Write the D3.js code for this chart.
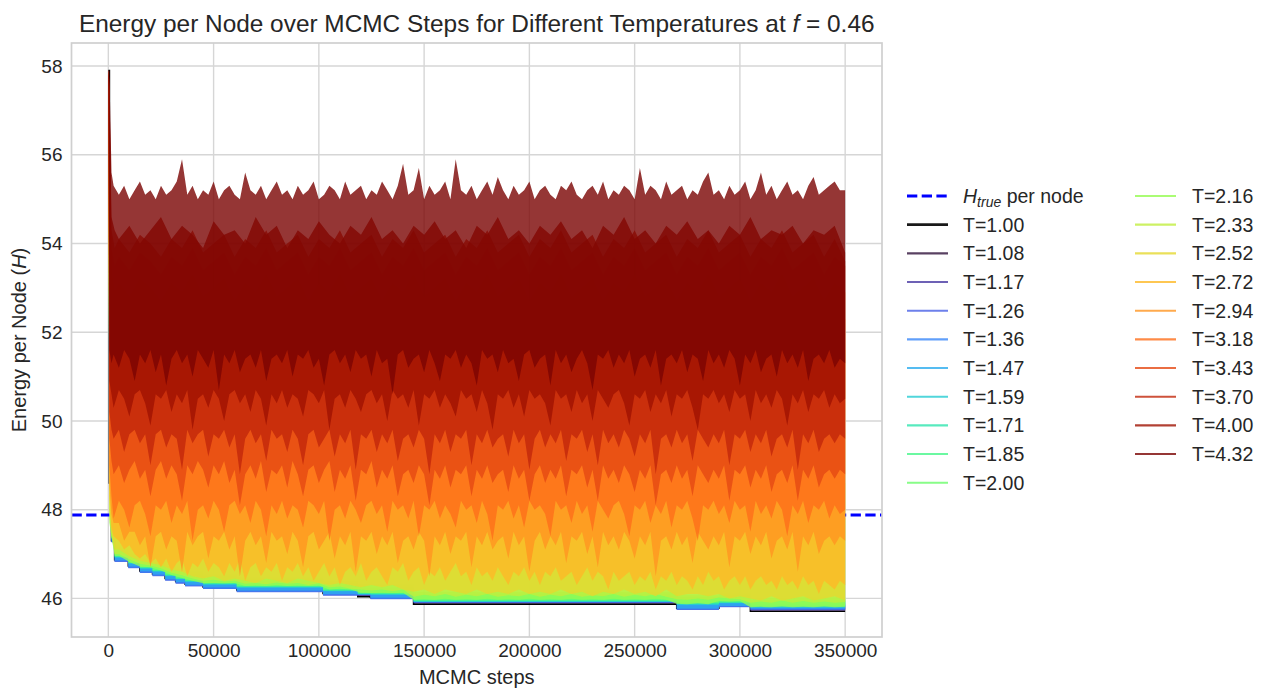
<!DOCTYPE html>
<html><head><meta charset="utf-8">
<script src="https://cdn.jsdelivr.net/npm/d3@7"></script>
<style>
body{margin:0;background:#fff;}
text{font-family:"Liberation Sans",Arial,sans-serif;fill:#262626;}
</style>
</head><body>
<svg id="chart" width="1267" height="690"></svg>
<script>
// ---------------- DATA ----------------
const temperatures = ["1.00","1.08","1.17","1.26","1.36","1.47","1.59","1.71","1.85","2.00",
                      "2.16","2.33","2.52","2.72","2.94","3.18","3.43","3.70","4.00","4.32"];
const hTrue = 47.88;
const xTickValues = [0, 50000, 100000, 150000, 200000, 250000, 300000, 350000];
const yTickValues = [46, 48, 50, 52, 54, 56, 58];

// coarse sample steps (upper envelopes that are mostly hidden)
const steps = [0, 500, 1500, 3000, 5000, 10000, 15000, 20000, 25000, 30000,
  35000, 40000, 45000, 50000, 55000, 60000, 65000, 70000, 75000, 80000,
  85000, 90000, 95000, 100000, 105000, 110000, 115000, 120000, 125000, 130000,
  135000, 140000, 145000, 150000, 155000, 160000, 165000, 170000, 175000, 180000,
  185000, 190000, 195000, 200000, 205000, 210000, 215000, 220000, 225000, 230000,
  235000, 240000, 245000, 250000, 255000, 260000, 265000, 270000, 275000, 280000,
  285000, 290000, 295000, 300000, 305000, 310000, 315000, 320000, 325000, 330000,
  335000, 340000, 345000, 350000];

// fine sample steps (visible edges)
const fineSteps = [0, 500, 1500, 2500, 5000, 7500, 10000, 12500, 15000, 17500,
  20000, 22500, 25000, 27500, 30000, 32500, 35000, 37500, 40000, 42500,
  45000, 47500, 50000, 52500, 55000, 57500, 60000, 62500, 65000, 67500,
  70000, 72500, 75000, 77500, 80000, 82500, 85000, 87500, 90000, 92500,
  95000, 97500, 100000, 102500, 105000, 107500, 110000, 112500, 115000, 117500,
  120000, 122500, 125000, 127500, 130000, 132500, 135000, 137500, 140000, 142500,
  145000, 147500, 150000, 152500, 155000, 157500, 160000, 162500, 165000, 167500,
  170000, 172500, 175000, 177500, 180000, 182500, 185000, 187500, 190000, 192500,
  195000, 197500, 200000, 202500, 205000, 207500, 210000, 212500, 215000, 217500,
  220000, 222500, 225000, 227500, 230000, 232500, 235000, 237500, 240000, 242500,
  245000, 247500, 250000, 252500, 255000, 257500, 260000, 262500, 265000, 267500,
  270000, 272500, 275000, 277500, 280000, 282500, 285000, 287500, 290000, 292500,
  295000, 297500, 300000, 302500, 305000, 307500, 310000, 312500, 315000, 317500,
  320000, 322500, 325000, 327500, 330000, 332500, 335000, 337500, 340000, 342500,
  345000, 347500, 350000];

// change points for the low-temperature (staircase) traces
const lowSteps = [0, 500, 1500, 3000, 9500, 15000, 21000, 27000, 32000, 36500, 45000, 61000,
  102000, 118500, 124500, 145000, 175000, 210000, 240000, 270000, 290000, 305000, 325000, 350000];

const t100 = [57.9, 48.6, 47.3, 46.87, 46.73, 46.62, 46.55, 46.45, 46.38, 46.32, 46.26, 46.19,
  46.11, 46.04, 46.03, 45.87, 45.87, 45.87, 45.87, 45.78, 45.84, 45.71, 45.71, 45.71];

const t108Lo = [57.9, 48.6, 47.28, 46.84, 46.7, 46.59, 46.52, 46.42, 46.35, 46.29, 46.23, 46.16, 46.08, 46.06, 46.0, 45.89, 45.89, 45.89, 45.89, 45.75, 45.81, 45.73, 45.73, 45.73];
const t108Hi = [57.9, 49.6, 47.34, 46.9, 46.76, 46.65, 46.58, 46.48, 46.41, 46.35, 46.29, 46.22, 46.14, 46.1, 46.06, 45.93, 45.93, 45.92, 45.93, 45.81, 45.87, 45.78, 45.79, 45.78];
const t117Lo = [57.9, 48.6, 47.27, 46.83, 46.69, 46.58, 46.51, 46.41, 46.34, 46.28, 46.22, 46.15, 46.07, 46.06, 45.99, 45.89, 45.89, 45.89, 45.89, 45.75, 45.81, 45.73, 45.73, 45.73];
const t117Hi = [57.9, 49.5, 47.36, 46.92, 46.78, 46.67, 46.6, 46.5, 46.43, 46.37, 46.31, 46.24, 46.16, 46.12, 46.08, 45.95, 45.95, 45.94, 45.95, 45.83, 45.89, 45.8, 45.81, 45.8];
const t126Lo = [57.9, 48.7, 47.26, 46.82, 46.68, 46.57, 46.5, 46.4, 46.33, 46.27, 46.21, 46.14, 46.06, 46.07, 45.98, 45.9, 45.9, 45.9, 45.9, 45.74, 45.8, 45.74, 45.74, 45.74];
const t126Hi = [57.9, 49.5, 47.38, 46.94, 46.8, 46.69, 46.62, 46.52, 46.45, 46.39, 46.33, 46.26, 46.18, 46.14, 46.1, 45.97, 45.96, 45.97, 45.96, 45.85, 45.91, 45.82, 45.83, 45.82];
const t136Lo = [57.9, 48.7, 47.27, 46.83, 46.69, 46.58, 46.51, 46.41, 46.34, 46.28, 46.22, 46.15, 46.07, 46.08, 45.99, 45.91, 45.91, 45.91, 45.91, 45.75, 45.81, 45.75, 45.75, 45.75];
const t136Hi = [57.9, 49.4, 47.4, 46.97, 46.83, 46.72, 46.65, 46.55, 46.48, 46.42, 46.36, 46.29, 46.21, 46.16, 46.13, 45.99, 45.98, 45.99, 45.98, 45.88, 45.93, 45.84, 45.85, 45.84];
const t147Lo = [57.9, 48.8, 47.3, 46.86, 46.72, 46.61, 46.54, 46.44, 46.37, 46.31, 46.25, 46.18, 46.1, 46.09, 46.02, 45.92, 45.92, 45.92, 45.92, 45.77, 45.83, 45.77, 45.77, 45.77];
const t147Hi = [57.9, 49.3, 47.43, 47.0, 46.86, 46.75, 46.68, 46.58, 46.51, 46.45, 46.39, 46.32, 46.24, 46.18, 46.16, 46.01, 46.0, 46.01, 46.0, 45.91, 45.96, 45.87, 45.88, 45.87];
const t159Lo = [57.9, 48.8, 47.35, 46.92, 46.78, 46.67, 46.6, 46.5, 46.43, 46.37, 46.31, 46.24, 46.16, 46.09, 46.08, 45.92, 45.92, 45.92, 45.92, 45.85, 45.89, 45.79, 45.79, 45.79];
const t159Hi = [57.9, 49.3, 47.48, 47.04, 46.9, 46.79, 46.72, 46.62, 46.55, 46.49, 46.43, 46.36, 46.28, 46.21, 46.2, 46.04, 46.03, 46.04, 46.03, 45.96, 46.0, 45.9, 45.91, 45.9];
const t171Lo = [57.9, 48.9, 47.36, 46.93, 46.79, 46.68, 46.61, 46.51, 46.44, 46.38, 46.32, 46.25, 46.17, 46.1, 46.09, 45.93, 45.93, 45.93, 45.93, 45.87, 45.9, 45.81, 45.81, 45.81];
const t171Hi = [57.9, 49.2, 47.52, 47.07, 46.93, 46.82, 46.75, 46.65, 46.58, 46.52, 46.46, 46.39, 46.31, 46.24, 46.23, 46.07, 46.06, 46.07, 46.06, 45.99, 46.03, 45.93, 45.94, 45.93];
const t185Lo = [57.9, 48.9, 47.38, 46.94, 46.8, 46.69, 46.62, 46.52, 46.45, 46.39, 46.33, 46.26, 46.18, 46.11, 46.1, 45.94, 45.94, 45.94, 45.94, 45.89, 45.91, 45.83, 45.83, 45.83];
const t185Hi = [57.9, 49.1, 47.56, 47.11, 46.97, 46.86, 46.79, 46.69, 46.62, 46.56, 46.5, 46.43, 46.35, 46.28, 46.27, 46.11, 46.1, 46.11, 46.1, 46.03, 46.07, 45.97, 45.98, 45.97];
const t200Lo = [57.9, 49.0, 47.4, 46.96, 46.82, 46.71, 46.64, 46.54, 46.47, 46.41, 46.35, 46.28, 46.2, 46.13, 46.12, 45.96, 45.96, 45.96, 45.96, 45.91, 45.93, 45.86, 45.86, 45.86];
const t200Hi = [57.9, 49.1, 47.6, 47.15, 47.01, 46.9, 46.83, 46.73, 46.66, 46.6, 46.54, 46.47, 46.39, 46.32, 46.31, 46.15, 46.14, 46.15, 46.14, 46.07, 46.11, 46.01, 46.02, 46.01];

const t216Lo = [57.9, 47.7, 47.38, 46.96, 46.96, 46.82, 46.72, 46.7, 46.63, 46.53,
  46.46, 46.4, 46.34, 46.35, 46.34, 46.35, 46.28, 46.29, 46.28, 46.3,
  46.28, 46.29, 46.28, 46.29, 46.2, 46.22, 46.2, 46.13, 46.12, 46.13,
  46.12, 46.13, 45.97, 45.98, 45.97, 45.99, 45.97, 45.98, 45.97, 45.99,
  45.97, 45.98, 45.97, 45.99, 45.97, 45.98, 45.97, 45.99, 45.97, 45.98,
  45.97, 45.99, 45.97, 45.98, 45.97, 45.99, 45.97, 45.88, 45.87, 45.89,
  45.87, 45.94, 45.93, 45.94, 45.8, 45.81, 45.8, 45.82, 45.8, 45.81,
  45.8, 45.82, 45.8, 45.81];
const t216Hi = [57.9, 56.5, 49.6, 49.0, 48.8, 48.5, 48.7, 48.3, 48.6, 48.4,
  48.2, 48.5, 48.3, 48.6, 48.1, 48.4, 48.2, 48.5, 48.0, 48.3,
  48.4, 48.1, 48.5, 48.2, 48.3, 48.0, 48.4, 48.2, 48.5, 48.1,
  48.3, 48.0, 48.2, 48.4, 48.1, 48.3, 48.0, 48.2, 48.4, 48.1,
  48.3, 48.0, 48.2, 48.4, 48.1, 48.2, 48.0, 48.3, 48.1, 48.2,
  48.0, 48.3, 48.1, 48.2, 47.9, 48.2, 48.0, 48.3, 48.1, 48.0,
  48.2, 47.9, 48.1, 48.0, 48.2, 47.9, 48.1, 48.0, 47.8, 48.1,
  47.9, 48.0, 48.1, 47.8];
const t233Lo = [57.9, 47.8, 47.4, 47.0, 47.0, 46.88, 46.78, 46.74, 46.68, 46.58,
  46.52, 46.45, 46.4, 46.42, 46.38, 46.4, 46.33, 46.35, 46.32, 46.36,
  46.33, 46.35, 46.3, 46.34, 46.25, 46.27, 46.22, 46.2, 46.18, 46.2,
  46.16, 46.2, 46.04, 46.08, 46.05, 46.1, 46.04, 46.08, 46.05, 46.1,
  46.04, 46.07, 46.05, 46.1, 46.04, 46.08, 46.05, 46.1, 46.04, 46.07,
  46.05, 46.1, 46.04, 46.08, 46.05, 46.1, 46.04, 45.98, 45.97, 46.0,
  45.97, 46.02, 46.0, 45.98, 45.9, 45.93, 45.9, 45.95, 45.9, 45.94,
  45.9, 45.93, 45.9, 45.92];
const t233Hi = [57.9, 56.8, 50.4, 49.8, 49.6, 49.3, 49.5, 49.1, 49.4, 49.2,
  49.0, 49.3, 49.1, 49.4, 48.9, 49.2, 49.0, 49.3, 48.8, 49.1,
  49.2, 48.9, 49.3, 49.0, 49.1, 48.8, 49.2, 49.0, 49.3, 48.9,
  49.1, 48.8, 49.0, 49.2, 48.9, 49.1, 48.8, 49.0, 49.2, 48.9,
  49.1, 48.8, 49.0, 49.2, 48.9, 49.0, 48.8, 49.1, 48.9, 49.0,
  48.8, 49.1, 48.9, 49.0, 48.7, 49.0, 48.8, 49.1, 48.9, 48.8,
  49.0, 48.7, 48.9, 48.8, 49.0, 48.7, 48.9, 48.8, 48.6, 48.9,
  48.7, 48.8, 48.9, 48.6];
const t252Lo = [57.9, 48.0, 47.5, 47.1, 47.1, 46.95, 46.85, 46.8, 46.75, 46.65,
  46.6, 46.5, 46.45, 46.5, 46.4, 46.45, 46.4, 46.35, 46.45, 46.4,
  46.35, 46.45, 46.4, 46.35, 46.3, 46.35, 46.3, 46.25, 46.3, 46.25,
  46.3, 46.2, 46.15, 46.2, 46.1, 46.2, 46.15, 46.1, 46.2, 46.1,
  46.15, 46.1, 46.2, 46.1, 46.15, 46.1, 46.2, 46.1, 46.15, 46.05,
  46.15, 46.1, 46.2, 46.1, 46.15, 46.05, 46.2, 46.05, 46.1, 46.1,
  46.05, 46.1, 46.0, 46.05, 46.0, 45.95, 46.05, 45.95, 46.0, 46.05,
  45.95, 46.0, 46.05, 45.95];
const t252Hi = [57.9, 57.0, 51.5, 51.0, 50.8, 50.5, 50.7, 50.3, 50.6, 50.4,
  50.2, 50.5, 50.3, 50.6, 50.1, 50.4, 50.2, 50.5, 50.0, 50.3,
  50.4, 50.1, 50.5, 50.2, 50.3, 50.0, 50.4, 50.2, 50.5, 50.1,
  50.3, 50.0, 50.2, 50.4, 50.1, 50.3, 50.0, 50.2, 50.4, 50.1,
  50.3, 50.0, 50.2, 50.4, 50.1, 50.2, 50.0, 50.3, 50.1, 50.2,
  50.0, 50.3, 50.1, 50.2, 49.9, 50.2, 50.0, 50.3, 50.1, 50.0,
  50.2, 49.9, 50.1, 50.0, 50.2, 49.9, 50.1, 50.0, 49.8, 50.1,
  49.9, 50.0, 50.1, 49.8];
const t272Lo = [57.9, 48.3, 47.6, 47.4, 47.3, 47.1, 47.2, 47.0, 46.9, 47.0,
  46.8, 46.9, 46.7, 46.9, 46.6, 46.8, 46.9, 46.5, 46.8, 46.7,
  46.9, 46.6, 46.8, 46.7, 46.5, 46.8, 46.6, 46.9, 46.4, 46.7,
  46.8, 46.5, 46.7, 46.6, 46.8, 46.4, 46.7, 46.6, 46.8, 46.5,
  46.7, 46.4, 46.6, 46.8, 46.5, 46.7, 46.3, 46.6, 46.7, 46.5,
  46.8, 46.4, 46.6, 46.7, 46.5, 46.3, 46.7, 46.6, 46.8, 46.4,
  46.6, 46.7, 46.3, 46.6, 46.5, 46.7, 46.4, 46.6, 46.8, 46.5,
  46.6, 46.3, 46.7, 46.5, 46.6, 46.4, 46.7, 46.5, 46.3, 46.6,
  46.5, 46.7, 46.4, 46.6, 46.3, 46.6, 46.5, 46.7, 46.4, 46.5,
  46.6, 46.3, 46.5, 46.7, 46.4, 46.6, 46.5, 46.2, 46.6, 46.4,
  46.5, 46.6, 46.3, 46.5, 46.4, 46.6, 46.2, 46.5, 46.4, 46.6,
  46.3, 46.5, 46.4, 46.2, 46.5, 46.3, 46.6, 46.4, 46.5, 46.2,
  46.4, 46.5, 46.3, 46.5, 46.2, 46.4, 46.5, 46.3, 46.4, 46.2,
  46.5, 46.3, 46.4, 46.2, 46.5, 46.3, 46.4, 46.1, 46.4, 46.3,
  46.2, 46.4, 46.3];
const t272Hi = [57.9, 57.2, 52.0, 51.6, 51.8, 51.5, 51.9, 51.7, 51.4, 51.8,
  51.6, 52.0, 51.5, 51.7, 51.9, 51.4, 51.8, 51.6, 52.0, 51.5,
  51.7, 51.9, 51.4, 51.8, 51.6, 52.0, 51.5, 51.7, 51.9, 51.4,
  51.8, 51.6, 52.0, 51.5, 51.7, 51.9, 51.4, 51.8, 51.6, 52.0,
  51.5, 51.7, 51.9, 51.4, 51.8, 51.6, 52.0, 51.5, 51.7, 51.9,
  51.4, 51.8, 51.6, 52.0, 51.5, 51.7, 51.9, 51.4, 51.8, 51.6,
  52.0, 51.5, 51.7, 51.9, 51.4, 51.8, 51.6, 52.0, 51.5, 51.7,
  51.9, 51.4, 51.8, 51.6];
const t294Lo = [57.9, 48.6, 47.9, 47.7, 47.7, 47.3, 47.5, 47.5, 47.2, 47.4,
  46.7, 47.4, 47.5, 47.1, 47.4, 47.3, 46.6, 47.5, 47.2, 47.4,
  47.5, 46.9, 47.4, 47.3, 47.5, 47.1, 47.4, 46.5, 47.3, 47.5,
  47.2, 47.4, 46.8, 47.5, 47.3, 47.4, 47.0, 47.5, 47.3, 46.7,
  47.4, 47.5, 47.1, 47.3, 47.5, 46.9, 47.4, 47.2, 47.5, 46.6,
  47.4, 47.3, 47.5, 47.0, 47.4, 47.2, 47.5, 46.8, 47.3, 47.4,
  47.1, 47.5, 47.3, 46.5, 47.4, 47.2, 47.5, 47.0, 47.4, 47.3,
  47.5, 46.7, 47.4, 47.2, 47.5, 47.1, 47.3, 47.4, 46.9, 47.5,
  47.2, 47.4, 46.6, 47.3, 47.5, 47.1, 47.4, 47.2, 47.5, 46.8,
  47.4, 47.3, 47.5, 47.0, 47.4, 46.7, 47.5, 47.2, 47.4, 47.1,
  47.5, 47.3, 46.9, 47.4, 47.2, 47.5, 46.5, 47.3, 47.4, 47.1,
  47.5, 47.2, 47.4, 46.8, 47.5, 47.3, 47.1, 47.4, 47.2, 47.5,
  46.7, 47.4, 47.3, 47.5, 47.0, 47.4, 47.2, 47.5, 46.9, 47.3,
  47.4, 47.1, 47.5, 46.6, 47.4, 47.2, 47.5, 47.0, 47.3, 47.4,
  47.2, 47.4, 47.3];
const t294Hi = [57.9, 57.3, 52.7, 52.3, 52.5, 52.2, 52.6, 52.4, 52.1, 52.5,
  52.3, 52.7, 52.2, 52.4, 52.6, 52.1, 52.5, 52.3, 52.7, 52.2,
  52.4, 52.6, 52.1, 52.5, 52.3, 52.7, 52.2, 52.4, 52.6, 52.1,
  52.5, 52.3, 52.7, 52.2, 52.4, 52.6, 52.1, 52.5, 52.3, 52.7,
  52.2, 52.4, 52.6, 52.1, 52.5, 52.3, 52.7, 52.2, 52.4, 52.6,
  52.1, 52.5, 52.3, 52.7, 52.2, 52.4, 52.6, 52.1, 52.5, 52.3,
  52.7, 52.2, 52.4, 52.6, 52.1, 52.5, 52.3, 52.7, 52.2, 52.4,
  52.6, 52.1, 52.5, 52.3];
const t318Lo = [57.9, 49.0, 48.3, 47.8, 48.2, 48.0, 47.6, 48.1, 48.2, 47.9,
  47.4, 48.1, 48.0, 48.2, 47.7, 48.1, 47.9, 48.2, 47.3, 48.0,
  48.1, 47.8, 48.2, 48.0, 47.5, 48.1, 48.2, 47.9, 48.1, 47.7,
  48.2, 48.0, 47.4, 48.1, 47.9, 48.2, 47.8, 48.1, 48.0, 47.6,
  48.2, 48.1, 47.9, 48.2, 47.3, 48.0, 48.1, 47.8, 48.2, 48.0,
  47.7, 48.1, 48.2, 47.9, 48.1, 47.5, 48.2, 48.0, 48.1, 47.8,
  48.2, 47.4, 48.1, 48.0, 48.2, 47.8, 48.1, 47.9, 47.6, 48.2,
  48.0, 48.1, 47.7, 48.2, 47.9, 47.3, 48.1, 48.0, 48.2, 47.8,
  48.1, 47.6, 48.2, 48.0, 48.1, 47.9, 47.4, 48.2, 48.0, 48.1,
  47.7, 48.2, 47.9, 48.1, 47.5, 48.2, 48.0, 47.8, 48.1, 48.2,
  47.9, 47.4, 48.1, 48.0, 48.2, 47.7, 48.1, 47.9, 48.2, 47.6,
  48.1, 48.0, 48.2, 47.8, 47.3, 48.1, 48.0, 48.2, 47.9, 48.1,
  47.7, 48.2, 48.0, 48.1, 47.5, 48.2, 47.9, 48.1, 47.8, 48.2,
  48.0, 47.4, 48.1, 47.9, 48.2, 47.7, 48.1, 48.0, 48.2, 47.8,
  48.1, 47.9, 48.0];
const t318Hi = [57.9, 57.4, 53.3, 52.9, 53.1, 52.8, 53.2, 53.0, 52.7, 53.1,
  52.9, 53.3, 52.8, 53.0, 53.2, 52.7, 53.1, 52.9, 53.3, 52.8,
  53.0, 53.2, 52.7, 53.1, 52.9, 53.3, 52.8, 53.0, 53.2, 52.7,
  53.1, 52.9, 53.3, 52.8, 53.0, 53.2, 52.7, 53.1, 52.9, 53.3,
  52.8, 53.0, 53.2, 52.7, 53.1, 52.9, 53.3, 52.8, 53.0, 53.2,
  52.7, 53.1, 52.9, 53.3, 52.8, 53.0, 53.2, 52.7, 53.1, 52.9,
  53.3, 52.8, 53.0, 53.2, 52.7, 53.1, 52.9, 53.3, 52.8, 53.0,
  53.2, 52.7, 53.1, 52.9];
const t343Lo = [57.9, 49.6, 49.1, 48.8, 49.0, 48.6, 48.9, 49.1, 48.7, 48.9,
  48.3, 48.9, 49.1, 48.7, 49.0, 48.8, 48.2, 49.0, 48.8, 49.1,
  48.9, 48.5, 49.0, 48.8, 49.1, 48.6, 48.9, 48.1, 48.8, 49.0,
  48.7, 49.1, 48.4, 48.9, 48.8, 49.0, 48.5, 49.1, 48.8, 48.3,
  48.9, 49.0, 48.6, 48.9, 49.1, 48.4, 48.9, 48.7, 49.0, 48.2,
  48.9, 48.8, 49.1, 48.5, 48.9, 48.7, 49.0, 48.3, 48.8, 48.9,
  48.6, 49.0, 48.8, 48.1, 48.9, 48.7, 49.0, 48.5, 48.9, 48.8,
  49.0, 48.3, 48.9, 48.7, 49.0, 48.6, 48.8, 48.9, 48.4, 49.0,
  48.7, 48.9, 48.2, 48.8, 49.0, 48.6, 48.9, 48.7, 49.0, 48.3,
  48.9, 48.8, 49.0, 48.5, 48.9, 48.2, 49.0, 48.7, 48.9, 48.6,
  49.0, 48.8, 48.4, 48.9, 48.7, 49.0, 48.1, 48.8, 48.9, 48.6,
  49.0, 48.7, 48.9, 48.3, 49.0, 48.8, 48.6, 48.9, 48.7, 49.0,
  48.2, 48.9, 48.8, 49.0, 48.5, 48.9, 48.7, 49.0, 48.4, 48.8,
  48.9, 48.6, 49.0, 48.2, 48.9, 48.7, 49.0, 48.5, 48.8, 48.9,
  48.7, 48.9, 48.8];
const t343Hi = [57.9, 57.5, 53.9, 53.5, 53.7, 53.4, 53.8, 53.6, 53.3, 53.7,
  53.5, 53.9, 53.4, 53.6, 53.8, 53.3, 53.7, 53.5, 53.9, 53.4,
  53.6, 53.8, 53.3, 53.7, 53.5, 53.9, 53.4, 53.6, 53.8, 53.3,
  53.7, 53.5, 53.9, 53.4, 53.6, 53.8, 53.3, 53.7, 53.5, 53.9,
  53.4, 53.6, 53.8, 53.3, 53.7, 53.5, 53.9, 53.4, 53.6, 53.8,
  53.3, 53.7, 53.5, 53.9, 53.4, 53.6, 53.8, 53.3, 53.7, 53.5,
  53.9, 53.4, 53.6, 53.8, 53.3, 53.7, 53.5, 53.9, 53.4, 53.6,
  53.8, 53.3, 53.7, 53.5];
const t370Lo = [57.9, 50.2, 49.8, 49.6, 49.8, 49.3, 49.7, 49.8, 49.5, 49.7,
  49.0, 49.7, 49.8, 49.4, 49.7, 49.6, 48.9, 49.8, 49.5, 49.7,
  49.8, 49.2, 49.7, 49.6, 49.8, 49.4, 49.7, 48.8, 49.6, 49.8,
  49.5, 49.7, 49.1, 49.8, 49.6, 49.7, 49.3, 49.8, 49.6, 49.0,
  49.7, 49.8, 49.4, 49.6, 49.8, 49.2, 49.7, 49.5, 49.8, 48.9,
  49.7, 49.6, 49.8, 49.3, 49.7, 49.5, 49.8, 49.1, 49.6, 49.7,
  49.4, 49.8, 49.6, 48.8, 49.7, 49.5, 49.8, 49.3, 49.7, 49.6,
  49.8, 49.0, 49.7, 49.5, 49.8, 49.4, 49.6, 49.7, 49.2, 49.8,
  49.5, 49.7, 48.9, 49.6, 49.8, 49.4, 49.7, 49.5, 49.8, 49.1,
  49.7, 49.6, 49.8, 49.3, 49.7, 49.0, 49.8, 49.5, 49.7, 49.4,
  49.8, 49.6, 49.2, 49.7, 49.5, 49.8, 48.8, 49.6, 49.7, 49.4,
  49.8, 49.5, 49.7, 49.1, 49.8, 49.6, 49.4, 49.7, 49.5, 49.8,
  49.0, 49.7, 49.6, 49.8, 49.3, 49.7, 49.5, 49.8, 49.2, 49.6,
  49.7, 49.4, 49.8, 48.9, 49.7, 49.5, 49.8, 49.3, 49.6, 49.7,
  49.5, 49.7, 49.6];
const t370Hi = [57.9, 57.6, 54.3, 53.9, 54.1, 53.8, 54.2, 54.0, 53.7, 54.1,
  53.9, 54.3, 53.8, 54.0, 54.2, 53.7, 54.1, 53.9, 54.3, 53.8,
  54.0, 54.2, 53.7, 54.1, 53.9, 54.3, 53.8, 54.0, 54.2, 53.7,
  54.1, 53.9, 54.3, 53.8, 54.0, 54.2, 53.7, 54.1, 53.9, 54.3,
  53.8, 54.0, 54.2, 53.7, 54.1, 53.9, 54.3, 53.8, 54.0, 54.2,
  53.7, 54.1, 53.9, 54.3, 53.8, 54.0, 54.2, 53.7, 54.1, 53.9,
  54.3, 53.8, 54.0, 54.2, 53.7, 54.1, 53.9, 54.3, 53.8, 54.0,
  54.2, 53.7, 54.1, 53.6];
const t400Lo = [57.9, 50.9, 50.6, 50.3, 50.7, 50.5, 50.1, 50.6, 50.7, 50.4,
  49.9, 50.6, 50.5, 50.7, 50.2, 50.6, 50.4, 50.7, 49.8, 50.5,
  50.6, 50.3, 50.7, 50.5, 50.0, 50.6, 50.7, 50.4, 50.6, 50.2,
  50.7, 50.5, 49.9, 50.6, 50.4, 50.7, 50.3, 50.6, 50.5, 50.1,
  50.7, 50.6, 50.4, 50.7, 49.8, 50.5, 50.6, 50.3, 50.7, 50.5,
  50.2, 50.6, 50.7, 50.4, 50.6, 50.0, 50.7, 50.5, 50.6, 50.3,
  50.7, 49.9, 50.6, 50.5, 50.7, 50.3, 50.6, 50.4, 50.1, 50.7,
  50.5, 50.6, 50.2, 50.7, 50.4, 49.8, 50.6, 50.5, 50.7, 50.3,
  50.6, 50.1, 50.7, 50.5, 50.6, 50.4, 49.9, 50.7, 50.5, 50.6,
  50.2, 50.7, 50.4, 50.6, 50.0, 50.7, 50.5, 50.3, 50.6, 50.7,
  50.4, 49.9, 50.6, 50.5, 50.7, 50.2, 50.6, 50.4, 50.7, 50.1,
  50.6, 50.5, 50.7, 50.3, 49.8, 50.6, 50.5, 50.7, 50.4, 50.6,
  50.2, 50.7, 50.5, 50.6, 50.0, 50.7, 50.4, 50.6, 50.3, 50.7,
  50.5, 49.9, 50.6, 50.4, 50.7, 50.2, 50.6, 50.5, 50.7, 50.3,
  50.6, 50.4, 50.5];
const t400Hi = [57.9, 57.7, 54.6, 54.3, 54.1, 54.4, 54.0, 54.3, 54.6, 54.1,
  54.4, 54.2, 53.9, 54.5, 54.2, 54.3, 54.0, 54.6, 54.2, 54.4,
  53.9, 54.3, 54.1, 54.5, 54.2, 54.0, 54.4, 54.2, 54.6, 54.1,
  54.3, 54.0, 54.4, 54.2, 54.5, 54.1, 54.3, 53.9, 54.4, 54.2,
  54.6, 54.1, 54.3, 54.0, 54.4, 54.2, 54.5, 54.1, 54.3, 53.9,
  54.4, 54.2, 54.6, 54.1, 54.3, 54.0, 54.4, 54.2, 54.5, 54.1,
  54.3, 54.0, 54.4, 54.2, 54.6, 54.1, 54.3, 54.2, 54.4, 54.0,
  54.3, 54.2, 54.4, 53.8];
const t432Lo = [57.9, 51.6, 51.3, 51.5, 51.2, 51.6, 51.4, 50.9, 51.5, 51.3,
  51.6, 51.1, 51.5, 50.8, 51.4, 51.6, 51.3, 51.5, 51.0, 51.6,
  51.4, 51.2, 51.6, 50.7, 51.5, 51.3, 51.6, 51.1, 51.4, 51.5,
  51.2, 51.6, 50.9, 51.4, 51.5, 51.3, 51.6, 51.0, 51.5, 51.4,
  51.6, 51.2, 51.4, 50.8, 51.5, 51.6, 51.3, 51.5, 51.1, 51.6,
  51.4, 51.5, 51.0, 51.6, 51.3, 51.4, 50.6, 51.5, 51.6, 51.2,
  51.4, 51.5, 51.1, 51.6, 51.3, 50.9, 51.5, 51.4, 51.6, 51.2,
  51.5, 51.3, 50.8, 51.6, 51.4, 51.5, 51.1, 51.6, 51.3, 51.4,
  50.9, 51.5, 51.6, 51.2, 51.4, 51.5, 50.8, 51.6, 51.3, 51.5,
  51.1, 51.4, 51.6, 51.3, 50.7, 51.5, 51.4, 51.6, 51.2, 51.5,
  51.3, 51.6, 51.0, 51.4, 51.5, 51.2, 51.6, 50.8, 51.4, 51.5,
  51.3, 51.6, 51.1, 51.5, 51.4, 50.9, 51.6, 51.3, 51.5, 51.2,
  51.6, 51.4, 50.8, 51.5, 51.3, 51.6, 51.1, 51.4, 51.5, 51.0,
  51.6, 51.3, 51.5, 51.2, 51.6, 50.9, 51.4, 51.5, 51.3, 51.6,
  51.2, 51.4, 51.3];
const t432Hi = [57.9, 57.9, 55.6, 55.3, 55.1, 55.3, 55.0, 55.2, 55.4, 55.1,
  55.2, 55.0, 55.3, 55.1, 55.2, 55.4, 55.9, 55.1, 55.3, 55.0,
  55.2, 55.1, 55.4, 55.0, 55.2, 55.3, 55.1, 55.0, 55.6, 55.2,
  55.1, 55.3, 55.0, 55.2, 55.4, 55.1, 55.2, 55.0, 55.3, 55.1,
  55.2, 55.4, 55.0, 55.1, 55.3, 55.2, 55.0, 55.4, 55.1, 55.2,
  55.3, 55.0, 55.2, 55.1, 55.4, 55.2, 55.0, 55.3, 55.8, 55.1,
  55.2, 55.7, 55.0, 55.3, 55.1, 55.2, 55.4, 55.0, 55.9, 55.2,
  55.1, 55.3, 55.0, 55.2, 55.4, 55.1, 55.5, 55.2, 55.0, 55.3,
  55.1, 55.2, 55.4, 55.0, 55.2, 55.3, 55.1, 55.0, 55.3, 55.2,
  55.4, 55.1, 55.0, 55.2, 55.3, 55.1, 55.4, 55.0, 55.2, 55.1,
  55.3, 55.2, 55.0, 55.7, 55.1, 55.3, 55.2, 55.0, 55.4, 55.1,
  55.2, 55.3, 55.0, 55.2, 55.1, 55.4, 55.6, 55.1, 55.2, 55.0,
  55.3, 55.1, 55.2, 55.4, 55.0, 55.2, 55.6, 55.1, 55.3, 55.0,
  55.2, 55.4, 55.1, 55.2, 55.0, 55.3, 55.5, 55.1, 55.2, 55.3,
  55.4, 55.2, 55.2];

// ---------------- LAYOUT ----------------
const L = 71.5, R = 882, T = 43, B = 637;
const svg = d3.select("#chart");

const x = d3.scaleLinear().domain([-17500, 367500]).range([L, R]);
const y = d3.scaleLinear().domain([45.13, 58.52]).range([B, T]);

function colorFor(i) {
  if (i === 0) return "#000000";
  const t = (i - 1) / 18;
  if (t === 0) return "#30123b";
  if (t === 1) return "#7a0403";
  return d3.interpolateTurbo(t);
}

// grid
const grid = svg.append("g");
grid.selectAll("line.gx").data(xTickValues).join("line")
  .attr("x1", d => x(d)).attr("x2", d => x(d)).attr("y1", T).attr("y2", B)
  .attr("stroke", "#d6d6d6").attr("stroke-width", 1.4);
grid.selectAll("line.gy").data(yTickValues).join("line")
  .attr("y1", d => y(d)).attr("y2", d => y(d)).attr("x1", L).attr("x2", R)
  .attr("stroke", "#d6d6d6").attr("stroke-width", 1.4);

svg.append("clipPath").attr("id", "plotclip")
  .append("rect").attr("x", L).attr("y", T).attr("width", R - L).attr("height", B - T);
const plot = svg.append("g").attr("clip-path", "url(#plotclip)");

// H_true line
plot.append("line")
  .attr("x1", L).attr("x2", R).attr("y1", y(hTrue)).attr("y2", y(hTrue))
  .attr("stroke", "#0000ff").attr("stroke-width", 2.8).attr("stroke-dasharray", "10.3,4.4");

// [label, x for lower edge, lower edge, x for upper edge, upper edge, staircase?]
const bands = [
  ["1.08", lowSteps, t108Lo, lowSteps, t108Hi, true],
  ["1.17", lowSteps, t117Lo, lowSteps, t117Hi, true],
  ["1.26", lowSteps, t126Lo, lowSteps, t126Hi, true],
  ["1.36", lowSteps, t136Lo, lowSteps, t136Hi, true],
  ["1.47", lowSteps, t147Lo, lowSteps, t147Hi, true],
  ["1.59", lowSteps, t159Lo, lowSteps, t159Hi, true],
  ["1.71", lowSteps, t171Lo, lowSteps, t171Hi, true],
  ["1.85", lowSteps, t185Lo, lowSteps, t185Hi, true],
  ["2.00", lowSteps, t200Lo, lowSteps, t200Hi, true],
  ["2.16", steps, t216Lo, steps, t216Hi, false],
  ["2.33", steps, t233Lo, steps, t233Hi, false],
  ["2.52", steps, t252Lo, steps, t252Hi, false],
  ["2.72", fineSteps, t272Lo, steps, t272Hi, false],
  ["2.94", fineSteps, t294Lo, steps, t294Hi, false],
  ["3.18", fineSteps, t318Lo, steps, t318Hi, false],
  ["3.43", fineSteps, t343Lo, steps, t343Hi, false],
  ["3.70", fineSteps, t370Lo, steps, t370Hi, false],
  ["4.00", fineSteps, t400Lo, steps, t400Hi, false],
  ["4.32", fineSteps, t432Lo, fineSteps, t432Hi, false]
];

// T=1.00 (lowest, drawn first)
plot.append("path")
  .attr("d", d3.line().curve(d3.curveStepAfter)
    .x((d, i) => x(lowSteps[i])).y(d => y(d))(t100))
  .attr("fill", "none").attr("stroke", colorFor(0)).attr("stroke-width", 1.6);

const edge = d3.line().x(p => x(p[0])).y(p => y(p[1]));
bands.forEach(b => {
  const [label, xl, lo, xh, hi, stepped] = b;
  const col = colorFor(temperatures.indexOf(label));
  let d;
  if (stepped) {
    const n = Math.min(xl.length, lo.length, hi.length);
    d = d3.area().curve(d3.curveStepAfter)
      .x(i => x(xl[i])).y0(i => y(lo[i])).y1(i => y(hi[i]))(d3.range(n));
  } else {
    const lowPts = d3.range(Math.min(xl.length, lo.length)).map(i => [xl[i], lo[i]]);
    const highPts = d3.range(Math.min(xh.length, hi.length)).map(i => [xh[i], hi[i]]).reverse();
    d = edge(lowPts.concat(highPts)) + "Z";
  }
  plot.append("path").attr("d", d).attr("fill", col).attr("fill-opacity", 0.8);
});

// frame
svg.append("rect").attr("x", L).attr("y", T).attr("width", R - L).attr("height", B - T)
  .attr("fill", "none").attr("stroke", "#cfcfcf").attr("stroke-width", 1.7);

// axes
const xAxis = svg.append("g").attr("transform", `translate(0,${B})`)
  .call(d3.axisBottom(x).tickValues(xTickValues).tickFormat(d3.format("d")).tickSize(0).tickPadding(7));
const yAxis = svg.append("g").attr("transform", `translate(${L},0)`)
  .call(d3.axisLeft(y).tickValues(yTickValues).tickFormat(d3.format("d")).tickSize(0).tickPadding(9));
[xAxis, yAxis].forEach(a => {
  a.select(".domain").remove();
  a.selectAll("text").attr("font-size", 19).attr("fill", "#262626")
    .attr("font-family", "Liberation Sans, Arial, sans-serif");
});

// title
const title = svg.append("text").attr("x", (L + R) / 2).attr("y", 31.5)
  .attr("text-anchor", "middle").attr("font-size", 24.4);
title.append("tspan").text("Energy per Node over MCMC Steps for Different Temperatures at ");
title.append("tspan").attr("font-style", "italic").text("f");
title.append("tspan").text(" = 0.46");

// axis labels
svg.append("text").attr("x", (L + R) / 2).attr("y", 684).attr("text-anchor", "middle")
  .attr("font-size", 20).text("MCMC steps");
const yl = svg.append("text").attr("transform", `translate(26,${(T + B) / 2}) rotate(-90)`)
  .attr("text-anchor", "middle").attr("font-size", 20);
yl.append("tspan").text("Energy per Node (");
yl.append("tspan").attr("font-style", "italic").text("H");
yl.append("tspan").text(")");

// legend
const leg = svg.append("g");
const rowH = 28.67, row0 = 196;
const legendItems = [{kind: "true"}].concat(temperatures.map((t, i) => ({kind: "T", t, i})));
legendItems.forEach((it, j) => {
  const col = j < 11 ? 0 : 1;
  const r = col === 0 ? j : j - 11;
  const hx = col === 0 ? 907 : 1135;
  const tx = col === 0 ? 963 : 1192;
  const cy = row0 + r * rowH;
  const g = leg.append("g");
  if (it.kind === "true") {
    g.append("line").attr("x1", hx).attr("x2", hx + 41).attr("y1", cy).attr("y2", cy)
      .attr("stroke", "#0000ff").attr("stroke-width", 2.8).attr("stroke-dasharray", "10.3,4.4");
    const tt = g.append("text").attr("x", tx).attr("y", cy + 6.5).attr("font-size", 19.5);
    tt.append("tspan").attr("font-style", "italic").text("H");
    tt.append("tspan").attr("font-style", "italic").attr("font-size", 14).attr("dy", 4).text("true");
    tt.append("tspan").attr("dy", -4).text(" per node");
  } else {
    g.append("line").attr("x1", hx).attr("x2", hx + 41).attr("y1", cy).attr("y2", cy)
      .attr("stroke", colorFor(it.i)).attr("stroke-width", it.i === 0 ? 2.8 : 2.1)
      .attr("stroke-opacity", it.i === 0 ? 0.9 : 0.8);
    g.append("text").attr("x", tx).attr("y", cy + 7).attr("font-size", 19.5).text("T=" + it.t);
  }
});
</script>
</body></html>
